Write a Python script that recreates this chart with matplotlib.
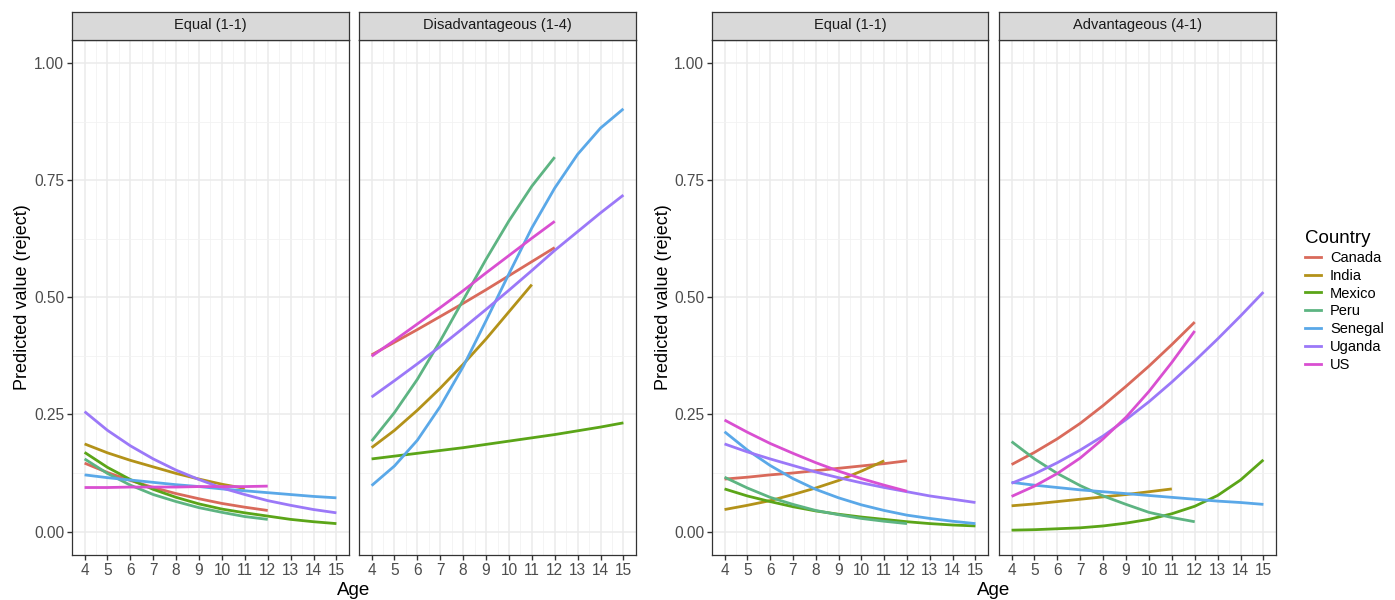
import numpy as np
import matplotlib.pyplot as plt
from matplotlib.lines import Line2D

plt.rcParams["font.family"] = ["Liberation Sans", "DejaVu Sans"]

# ------------------------------------------------------------
# Data
# ------------------------------------------------------------
countries = ["Canada", "India", "Mexico", "Peru", "Senegal", "Uganda", "US"]
colors = ["#D96A5B", "#B39219", "#5BA518", "#5DB482", "#5AA8E8", "#9B78F8", "#D94FD1"]

ages_to12 = list(range(4, 13))
ages_to11 = list(range(4, 12))
ages_to15 = list(range(4, 16))
country_ages = {
    "Canada": ages_to12, "India": ages_to11, "Mexico": ages_to15, "Peru": ages_to12,
    "Senegal": ages_to15, "Uganda": ages_to15, "US": ages_to12,
}

# left group: Equal (1-1)
left_equal = {
    "Canada": [0.146, 0.126, 0.109, 0.094, 0.081, 0.070, 0.060, 0.052, 0.045],
    "India": [0.187, 0.168, 0.152, 0.138, 0.124, 0.112, 0.101, 0.092],
    "Mexico": [0.169, 0.137, 0.111, 0.090, 0.073, 0.059, 0.048, 0.040, 0.033, 0.026, 0.021, 0.017],
    "Peru": [0.155, 0.124, 0.099, 0.079, 0.064, 0.051, 0.041, 0.032, 0.026],
    "Senegal": [0.121, 0.115, 0.110, 0.105, 0.100, 0.096, 0.091, 0.087, 0.083, 0.079, 0.075, 0.072],
    "Uganda": [0.256, 0.216, 0.183, 0.155, 0.131, 0.111, 0.093, 0.079, 0.066, 0.056, 0.047, 0.040],
    "US": [0.094, 0.094, 0.095, 0.095, 0.095, 0.096, 0.096, 0.096, 0.097],
}
# left group: Disadvantageous (1-4)
left_disadv = {
    "Canada": [0.377, 0.404, 0.431, 0.459, 0.487, 0.516, 0.546, 0.576, 0.606],
    "India": [0.179, 0.216, 0.259, 0.306, 0.357, 0.411, 0.469, 0.527],
    "Mexico": [0.155, 0.161, 0.167, 0.173, 0.179, 0.186, 0.193, 0.200, 0.207, 0.215, 0.223, 0.232],
    "Peru": [0.193, 0.254, 0.325, 0.407, 0.494, 0.581, 0.663, 0.737, 0.799],
    "Senegal": [0.098, 0.140, 0.195, 0.267, 0.352, 0.450, 0.550, 0.648, 0.733, 0.805, 0.861, 0.902],
    "Uganda": [0.287, 0.322, 0.358, 0.395, 0.434, 0.474, 0.515, 0.557, 0.600, 0.640, 0.680, 0.718],
    "US": [0.374, 0.408, 0.443, 0.478, 0.514, 0.552, 0.589, 0.626, 0.662],
}
# right group: Equal (1-1)
right_equal = {
    "Canada": [0.112, 0.116, 0.121, 0.125, 0.130, 0.135, 0.140, 0.145, 0.151],
    "India": [0.047, 0.056, 0.066, 0.079, 0.093, 0.109, 0.129, 0.151],
    "Mexico": [0.091, 0.076, 0.064, 0.053, 0.044, 0.037, 0.031, 0.026, 0.021, 0.017, 0.014, 0.012],
    "Peru": [0.116, 0.093, 0.073, 0.058, 0.045, 0.036, 0.028, 0.022, 0.017],
    "Senegal": [0.213, 0.174, 0.141, 0.113, 0.090, 0.072, 0.057, 0.045, 0.035, 0.028, 0.022, 0.017],
    "Uganda": [0.187, 0.170, 0.155, 0.141, 0.127, 0.115, 0.104, 0.094, 0.085, 0.076, 0.069, 0.062],
    "US": [0.238, 0.212, 0.188, 0.167, 0.147, 0.129, 0.113, 0.099, 0.086],
}
# right group: Advantageous (4-1)
right_adv = {
    "Canada": [0.143, 0.169, 0.198, 0.231, 0.269, 0.310, 0.353, 0.399, 0.447],
    "India": [0.055, 0.059, 0.064, 0.069, 0.074, 0.079, 0.085, 0.091],
    "Mexico": [0.003, 0.004, 0.006, 0.008, 0.012, 0.018, 0.026, 0.038, 0.054, 0.077, 0.110, 0.153],
    "Peru": [0.192, 0.155, 0.124, 0.098, 0.076, 0.058, 0.041, 0.030, 0.021],
    "Senegal": [0.105, 0.099, 0.094, 0.089, 0.085, 0.081, 0.077, 0.073, 0.069, 0.065, 0.062, 0.058],
    "Uganda": [0.103, 0.123, 0.147, 0.174, 0.204, 0.239, 0.277, 0.319, 0.364, 0.411, 0.460, 0.511],
    "US": [0.075, 0.097, 0.124, 0.157, 0.198, 0.244, 0.299, 0.361, 0.428],
}

panels = [
    ("Equal (1-1)", left_equal),
    ("Disadvantageous (1-4)", left_disadv),
    ("Equal (1-1)", right_equal),
    ("Advantageous (4-1)", right_adv),
]

y_ticks = [0.0, 0.25, 0.5, 0.75, 1.0]
y_ticklabels = ["0.00", "0.25", "0.50", "0.75", "1.00"]
x_ticks = list(range(4, 16))

# ------------------------------------------------------------
# Layout (pixel boxes, theme_bw look)
# ------------------------------------------------------------
W, H = 1395, 600
fig = plt.figure(figsize=(W / 100, H / 100), dpi=100)

panel_x = [(72, 349), (359, 636), (712, 988), (999, 1276)]
top, bottom, strip_top = 39.5, 555, 11.5
border = "#333333"
tick_col = "#4D4D4D"

def px_box(x0, x1, y0, y1):
    return [x0 / W, 1 - y1 / H, (x1 - x0) / W, (y1 - y0) / H]

for i, ((title, data), (x0, x1)) in enumerate(zip(panels, panel_x)):
    ax = fig.add_axes(px_box(x0, x1, top, bottom))
    ax.set_xlim(3.45, 15.55)
    ax.set_ylim(-0.05, 1.05)
    ax.set_xticks(x_ticks)
    ax.set_xticks(np.arange(4.5, 15, 1), minor=True)
    ax.set_yticks(y_ticks)
    ax.set_yticks([0.125, 0.375, 0.625, 0.875], minor=True)
    ax.grid(True, which="major", color="#EBEBEB", lw=1.1, zorder=0)
    ax.grid(True, which="minor", color="#F2F2F2", lw=0.6, zorder=0)
    ax.set_axisbelow(True)
    for s in ax.spines.values():
        s.set_color(border)
        s.set_linewidth(0.9)
    ax.tick_params(which="minor", length=0)
    ax.tick_params(which="major", length=3.5, width=1.0, color=border,
                   labelcolor=tick_col, labelsize=11.2, pad=2)
    if i in (0, 2):
        ax.set_yticklabels(y_ticklabels)
    else:
        ax.tick_params(axis="y", left=False, labelleft=False)

    for name, col in zip(countries, colors):
        ax.plot(country_ages[name], data[name], color=col, lw=2.0,
                solid_capstyle="butt", zorder=3)

    # strip
    sax = fig.add_axes(px_box(x0, x1, strip_top, top))
    sax.set_facecolor("#D9D9D9")
    sax.set_xticks([])
    sax.set_yticks([])
    for s in sax.spines.values():
        s.set_color(border)
        s.set_linewidth(0.9)
    sax.text(0.5, 0.5, title, ha="center", va="center", fontsize=10.5,
             color="#1A1A1A", transform=sax.transAxes)

# axis titles, one per facet group
for xc in (23, 663):
    fig.text(xc / W, 1 - 297.5 / H, "Predicted value (reject)", rotation=90,
             ha="center", va="center", fontsize=13)
for xc in (354, 994):
    fig.text(xc / W, 1 / H, "Age", ha="center", va="bottom", fontsize=13.5)

# legend
handles = [Line2D([0], [0], color=c, lw=2.0) for c in colors]
fig.legend(handles, countries, title="Country", loc="upper left",
           bbox_to_anchor=(1292 / W, 1 - 217 / H), frameon=False,
           fontsize=10.5, title_fontsize=13.5, handlelength=1.1,
           handletextpad=0.6, labelspacing=0.26, alignment="left")

fig.savefig("out.png", dpi=100)
